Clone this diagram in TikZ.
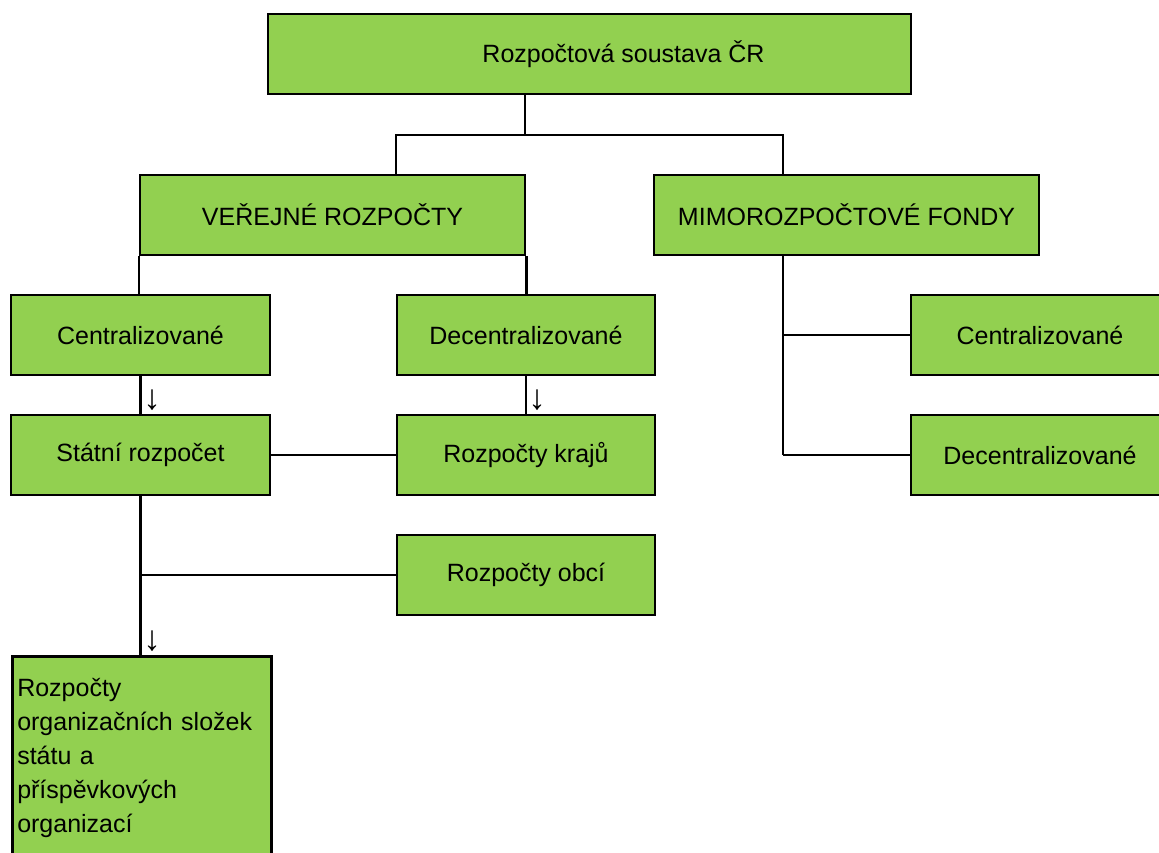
\documentclass[tikz,border=0pt]{standalone}
\usepackage{fontspec}
\setmainfont{Liberation Sans}
\usepackage{tikz}
\definecolor{zelena}{RGB}{146,208,80}

\begin{document}
\begin{tikzpicture}[x=1pt,y=-1pt,
	blok/.style={draw=black,line width=2.5pt,fill=zelena,minimum height=80pt,inner sep=0pt,font=\fontsize{25}{34}\selectfont},
	spoj/.style={line width=2.5pt},
	vodor/.style={line width=2pt},
	sipka/.style={inner sep=0pt,font=\fontsize{35}{35}\selectfont}]
		\useasboundingbox (0,0) rectangle (1159,852);
		\clip (0,0) rectangle (1159,852);
		\node[blok,minimum width=643pt] (soustava) at (589.5,54) {\hspace*{68pt}Rozpočtová soustava ČR};
		\node[blok,minimum width=385pt] (verejne) at (332.5,215) {VEŘEJNÉ ROZPOČTY};
		\node[blok,minimum width=385pt] (mimo) at (846.5,215) {MIMOROZPOČTOVÉ FONDY};
		\node[blok,minimum width=259pt] (vcen) at (140.5,335) {Centralizované};
		\node[blok,minimum width=258pt] (vdec) at (526,335) {Decentralizované};
		\node[blok,minimum width=259pt] (statni) at (140.5,455) {Státní rozpočet};
		\node[blok,minimum width=258pt] (kraje) at (526,455) {Rozpočty krajů};
		\node[blok,minimum width=258pt] (obce) at (526,575) {Rozpočty obcí};
		\node[blok,anchor=north west,text width=249pt,align=left,inner xsep=5pt,inner ysep=22pt] (slozky) at (11,655) {Rozpočty\\organizačních složek\\státu a\\příspěvkových\\organizací};
		\node[blok,minimum width=258pt] (fcen) at (1040,335) {Centralizované};
		\node[blok,minimum width=258pt] (fdec) at (1040,455) {Decentralizované};
		\coordinate (rozcesti) at (525,135);
		\coordinate (fondy) at (783,455);
		\draw[spoj] (soustava.south -| rozcesti) -- (rozcesti);
		\draw[spoj] (verejne.north -| vdec.west) |- (rozcesti) -| (mimo.north -| fondy);
		\draw[spoj] (verejne.south west) -- (vcen.north -| verejne.south west);
		\draw[spoj] (verejne.south east) -- (vdec.north -| verejne.south east);
		\draw[spoj] (vcen.south) -- (statni.north);
		\draw[spoj] (vdec.south) -- (kraje.north);
		\draw[vodor] (statni.east) -- (kraje.west);
		\draw[spoj] (statni.south) -- (slozky.north -| statni.south);
		\draw[vodor] (statni.south |- obce.west) -- (obce.west);
		\draw[spoj] (mimo.south -| fondy) -- (fondy);
		\draw[vodor] (fondy |- fcen.west) -- (fcen.west);
		\draw[vodor] (fondy) -- (fdec.west);
		\node[sipka] (sipka1) at (152,400) {↓};
		\node[sipka] (sipka2) at (537,400) {↓};
		\node[sipka] (sipka3) at (152,641) {↓};
	\end{tikzpicture}
\end{document}
